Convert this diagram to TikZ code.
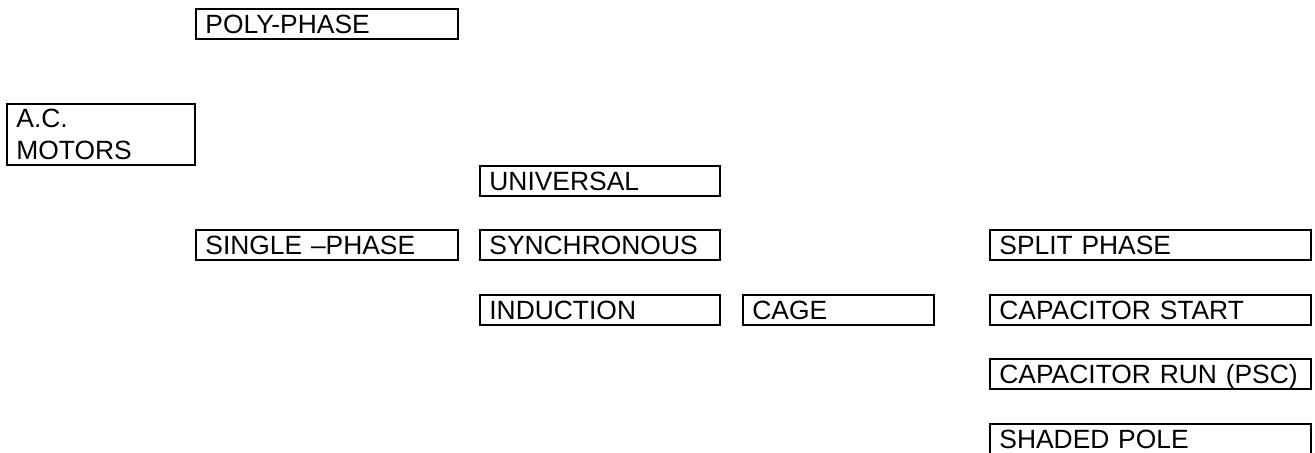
\documentclass[tikz,border=0pt]{standalone}
\usepackage{fontspec}
\setmainfont{Liberation Sans}
\tikzset{
motorbox/.style={draw, line width=1pt, anchor=north west, inner xsep=4.7pt, inner ysep=0pt,
  text height=12.2pt, text depth=2.8pt, text width=#1, align=left,
  font=\fontsize{13.2}{15.8}\selectfont}
}
\begin{document}
\begin{tikzpicture}[x=0.5pt,y=-0.5pt]
\useasboundingbox (0,0) rectangle (1315,453);
\node[motorbox=121.6pt] (poly) at (195,8) {POLY-PHASE};
\node[motorbox=84.4pt, text height=11.85pt, text depth=18.65pt] (acm) at (6,103) {A.C.\\MOTORS};
\node[motorbox=121.6pt] (single) at (195,229.5) {SINGLE –PHASE};

\node[motorbox=110.6pt] (univ) at (479,165.3) {UNIVERSAL};
\node[motorbox=110.6pt] (sync) at (479,229.5) {SYNCHRONOUS};
\node[motorbox=110.6pt] (induct) at (479,294) {INDUCTION};
\node[motorbox=85.9pt] (cage) at (742,294) {CAGE};

\node[motorbox=151.3pt] (split) at (989,229.5) {SPLIT PHASE};
\node[motorbox=151.3pt] (capstart) at (989,294) {CAPACITOR START};
\node[motorbox=151.3pt] (caprun) at (989,358.5) {CAPACITOR RUN (PSC)};
\node[motorbox=151.3pt] (shaded) at (989,423) {SHADED POLE};
\end{tikzpicture}
\end{document}
